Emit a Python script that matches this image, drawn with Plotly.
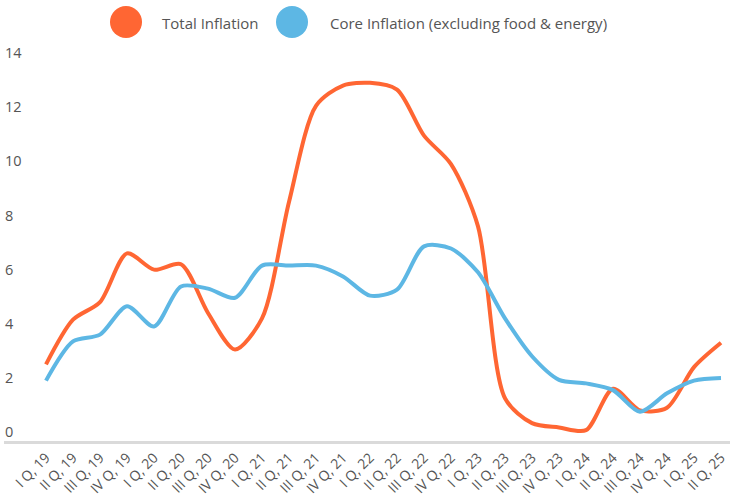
import plotly.graph_objects as go

quarters = ["I Q, 19", "II Q, 19", "III Q, 19", "IV Q, 19",
            "I Q, 20", "II Q, 20", "III Q, 20", "IV Q, 20",
            "I Q, 21", "II Q, 21", "III Q, 21", "IV Q, 21",
            "I Q, 22", "II Q, 22", "III Q, 22", "IV Q, 22",
            "I Q, 23", "II Q, 23", "III Q, 23", "IV Q, 23",
            "I Q, 24", "II Q, 24", "III Q, 24", "IV Q, 24",
            "I Q, 25", "II Q, 25"]

total_inflation = [2.5, 4.15, 4.8, 6.6, 6.0, 6.2, 4.4, 3.05,
                   4.2, 8.5, 12.05, 12.8, 12.9, 12.65, 10.95, 9.9,
                   7.6, 1.25, 0.33, 0.17, 0.07, 1.6, 0.8, 0.9,
                   2.4, 3.3]

core_inflation = [1.9, 3.35, 3.6, 4.65, 3.9, 5.38, 5.3, 4.96,
                  6.15, 6.15, 6.15, 5.75, 5.04, 5.26, 6.86, 6.78,
                  5.9, 4.2, 2.8, 1.93, 1.8, 1.55, 0.75, 1.43,
                  1.9, 2.0]

y_ticks = [0, 2, 4, 6, 8, 10, 12, 14]

ORANGE = "#FF6633"
BLUE = "#5DB7E4"
TEXT = "#555555"
FONT = "Open Sans"

fig = go.Figure()
fig.add_trace(go.Scatter(x=quarters, y=total_inflation, mode="lines",
                         name="Total Inflation",
                         line=dict(color=ORANGE, width=4, shape="spline", smoothing=0.8),
                         showlegend=False))
fig.add_trace(go.Scatter(x=quarters, y=core_inflation, mode="lines",
                         name="Core Inflation (excluding food & energy)",
                         line=dict(color=BLUE, width=4, shape="spline", smoothing=0.8),
                         showlegend=False))

W, H = 730, 497
ml, mr, mt, mb = 4, 0, 26, 56
pw = W - ml - mr
ph = H - mt - mb
upx = 27.07  # pixels per y unit
y_top = -0.33 + ph / upx
x0px = 46 - ml
xunit = 27.0

def xpaper(px):
    return (px - ml) / pw

def ypaper(py):
    return (H - mb - py) / ph

shapes = []
annotations = []
legend_items = [(126, 160, ORANGE, "Total Inflation"),
                (292, 328, BLUE, "Core Inflation (excluding food & energy)")]
for cx, tx, col, label in legend_items:
    shapes.append(dict(type="circle", xref="paper", yref="paper",
                       xsizemode="pixel", ysizemode="pixel",
                       xanchor=xpaper(cx), yanchor=ypaper(22),
                       x0=-16, x1=16, y0=-16, y1=16,
                       fillcolor=col, line=dict(width=0)))
    annotations.append(dict(xref="paper", yref="paper", x=xpaper(tx), y=ypaper(23),
                            xanchor="left", yanchor="middle", showarrow=False,
                            text=label, font=dict(family=FONT, size=15, color=TEXT)))

fig.update_layout(
    width=W, height=H,
    margin=dict(l=ml, r=mr, t=mt, b=mb, autoexpand=False),
    paper_bgcolor="white", plot_bgcolor="white",
    font=dict(family=FONT, color=TEXT),
    shapes=shapes, annotations=annotations,
    xaxis=dict(type="category", range=[-x0px / xunit, 25 + (W - mr - 721) / xunit],
               automargin=False,
               showgrid=False, zeroline=False,
               showline=True, linecolor="#DADADA", linewidth=3,
               ticks="", tickangle=-45, tickfont=dict(size=14, color=TEXT)),
    yaxis=dict(range=[-0.33, y_top], tickvals=y_ticks, ticktext=[str(v) for v in y_ticks],
               automargin=False,
               side="right", anchor="free", position=0,
               showgrid=False, zeroline=False, showline=False, ticks="",
               tickfont=dict(size=14.5, color=TEXT)),
)

fig.write_html("out.html", config={"displayModeBar": False},
               post_script="document.body.style.margin='0';")
